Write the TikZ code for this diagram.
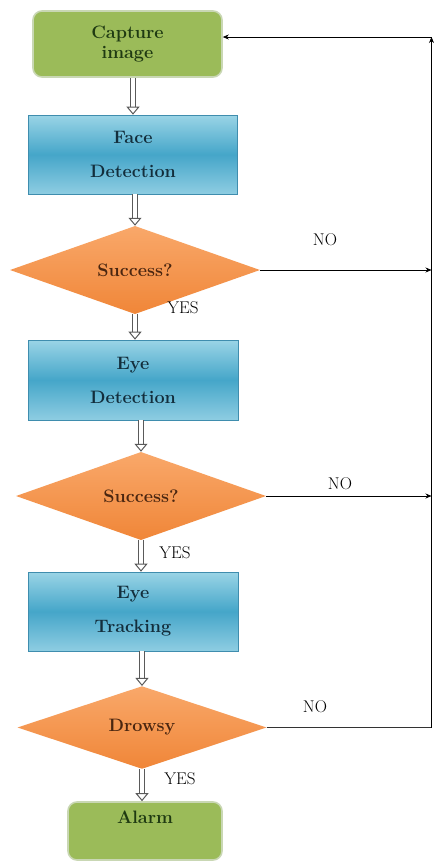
\documentclass[tikz,border=0pt]{standalone}
\usetikzlibrary{shapes.geometric,arrows.meta,calc}
\definecolor{gfill}{HTML}{9BBB59}
\definecolor{gedge}{HTML}{C9D7B4}
\definecolor{gtext}{HTML}{1F3A12}
\definecolor{btop}{HTML}{9AD4E6}
\definecolor{bmid}{HTML}{45A6C9}
\definecolor{bbot}{HTML}{8ECDE2}
\definecolor{bedge}{HTML}{3F8DAE}
\definecolor{btext}{HTML}{132E3C}
\definecolor{otop}{HTML}{F9A86A}
\definecolor{obot}{HTML}{F08638}
\definecolor{otext}{HTML}{4A2610}
\definecolor{arrgray}{HTML}{5A5A5A}
\tikzset{
  boxfont/.style={font=\fontsize{18}{21}\selectfont\bfseries},
  greenbox/.style={boxfont, rectangle, rounded corners=9pt, fill=gfill, draw=gedge, line width=1.6pt, text=gtext, align=center, inner sep=0pt},
  bluebox/.style={boxfont, rectangle, top color=btop, bottom color=bbot, middle color=bmid, draw=bedge, line width=0.6pt, text=btext, align=center, inner sep=0pt},
  decbox/.style={boxfont, diamond, top color=otop, bottom color=obot, draw=none, text=otext, inner sep=0pt},
  dblarrow/.style={
    draw=arrgray, line width=1.1pt, double=white, double distance=3.4pt, shorten >=7pt,
    postaction={draw=white, line width=0.3pt, double distance=0pt, shorten >=0pt, -{Triangle[open, width=13pt, length=8pt, line width=1pt, fill=white, color=arrgray]}}},
  thinarrow/.style={draw=black, line width=0.7pt, -{Stealth[length=6pt, width=5pt]}},
  thinline/.style={draw=black!80, line width=0.7pt},
  lab/.style={font=\fontsize{17}{20}\selectfont, text=black, inner sep=0pt}
}
\begin{document}
\begin{tikzpicture}[x=1pt,y=-1pt]
\useasboundingbox (0,0) rectangle (434,863);
\fill[white] (0,0) rectangle (434,863);

\node[greenbox, minimum width=189pt, minimum height=66pt] (cap) at (127.5,44) {Capture\\[-1pt]image};
\node[bluebox, minimum width=209pt, minimum height=79pt] (face) at (133,154.5) {Face\\[13pt]Detection};
\node[decbox, minimum width=250pt, minimum height=80pt] (d1) at (135,270) {Success?};
\node[bluebox, minimum width=210pt, minimum height=80pt] (eyed) at (133,380) {Eye\\[13pt]Detection};
\node[decbox, minimum width=250pt, minimum height=82pt] (d2) at (141,496) {Success?};
\node[bluebox, minimum width=210pt, minimum height=79pt] (eyet) at (133,611.5) {Eye\\[13pt]Tracking};
\node[decbox, minimum width=249pt, minimum height=78pt] (d3) at (142,727.5) {Drowsy};
\node[greenbox, minimum width=154pt, minimum height=58pt] (alarm) at (145,831) {};
\node[boxfont, text=gtext, inner sep=0pt] (alarmtxt) at (145,817) {Alarm};

% hollow flow arrows
\draw[dblarrow] (cap.south -| face.north) -- (face.north);
\draw[dblarrow] (face.south -| d1.north) -- (d1.north);
\draw[dblarrow] (d1.south) -- (d1.south |- eyed.north);
\draw[dblarrow] (eyed.south -| d2.north) -- (d2.north);
\draw[dblarrow] (d2.south) -- (d2.south |- eyet.north);
\draw[dblarrow] (eyet.south -| d3.north) -- (d3.north);
\draw[dblarrow] (d3.south) -- (d3.south |- alarm.north);

% feedback loop
\coordinate (rtop) at (431.5,37);
\coordinate (r1) at (431.5,270);
\coordinate (r2) at (431.5,496);
\draw[thinarrow] (d1.east) -- (r1);
\draw[thinarrow] (d2.east) -- (r2);
\draw[thinline] (d3.east) -- (d3.east -| rtop) coordinate (r3);
\draw[thinarrow] (r3) -- (rtop);
\draw[thinarrow] (rtop) -- (cap.east |- rtop);

% labels
\node[lab] (no1) at (325,240) {NO};
\node[lab] (no2) at (340,484) {NO};
\node[lab] (no3) at (315,707) {NO};
\node[lab] (yes1) at (183,308) {YES};
\node[lab] (yes2) at (175,553) {YES};
\node[lab] (yes3) at (180,779) {YES};
\end{tikzpicture}
\end{document}
